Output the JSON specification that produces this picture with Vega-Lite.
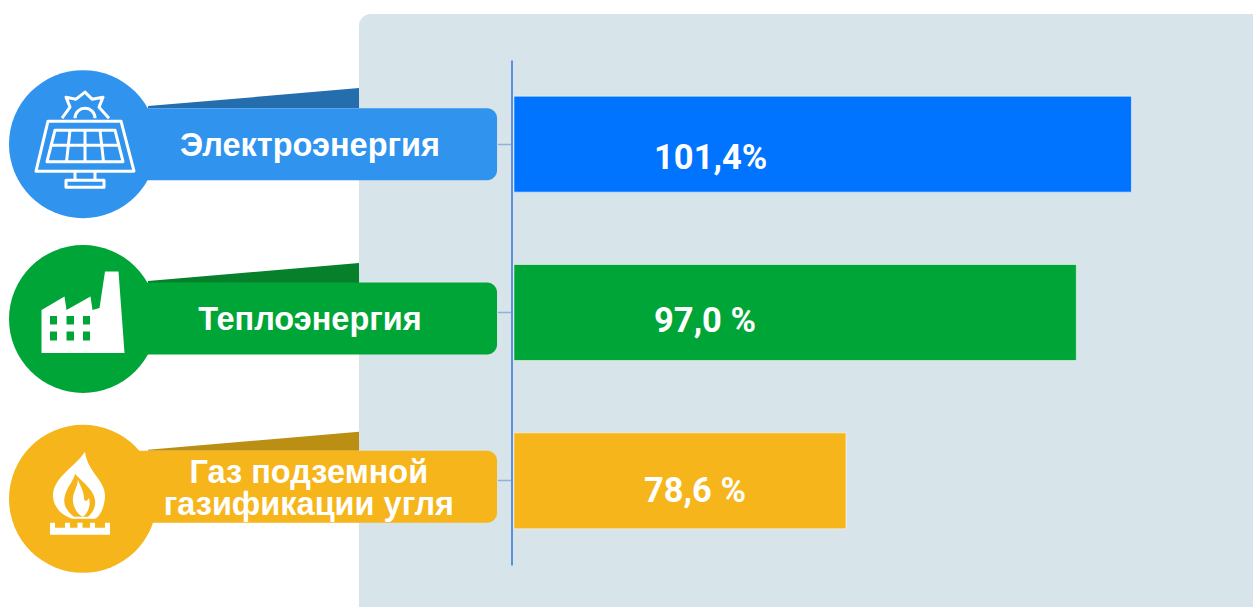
{"$schema":"https://vega.github.io/schema/vega-lite/v6.json","width":1253,"height":607,"padding":0,"autosize":{"type":"none"},"background":"#ffffff","config":{"view":{"stroke":null}},
"datasets":{"rows":[{"name":"Электроэнергия","value":101.4,"label":"101,4%","title":"Электроэнергия"},{"name":"Теплоэнергия","value":97.0,"label":"97,0 %","title":"Теплоэнергия"},{"name":"Газ подземной газификации угля","value":78.6,"label":"78,6 %","title":"Газ подземной\nгазификации угля"}]},
"data":{"name":"rows"},
"resolve":{"scale":{"y":"independent"}},
"layer":[
{"data":{"values":[{"panel":"background"}]},"mark":{"type":"rect","color":"#d7e4ea","cornerRadius":12},"encoding":{"x":{"datum":39.7,"type":"quantitative","scale":{"domain":[11.03,111.11],"nice":false,"zero":false},"axis":null},"x2":{"datum":114},"y":{"datum":14,"type":"quantitative","scale":{"domain":[607,0],"nice":false,"zero":false},"axis":null},"y2":{"datum":640}}},
{"encoding":{"y":{"field":"name","type":"nominal","sort":null,"title":null,"scale":{"type":"band","domain":["Электроэнергия","Теплоэнергия","Газ подземной газификации угля"],"range":[60,565],"paddingInner":0.43,"paddingOuter":0.215},"axis":{"orient":"left","offset":-511.5,"labels":false,"title":null,"zindex":1,"domainColor":"#5c8fdc","domainWidth":2,"tickColor":"#8fb0dc","tickSize":14,"tickWidth":1.5,"grid":false}}},
"layer":[
{"mark":{"type":"bar","stroke":"#ffffff","strokeOpacity":0.55,"strokeWidth":1},"encoding":{"x":{"field":"value","type":"quantitative","scale":{"domain":[11.03,111.11],"nice":false,"zero":false},"axis":null},"x2":{"datum":52.08},"color":{"field":"name","type":"nominal","legend":null,"scale":{"domain":["Электроэнергия","Теплоэнергия","Газ подземной газификации угля"],"range":["#0073ff","#00a537","#f5b51b"]}}}},

{"transform":[{"filter":"datum.value > 100"}],"layer":[
{"mark":{"type":"point","filled":true,"opacity":1,"size":44521,"color":"#246ead","yOffset":-36,"shape":"M-1 -0.02 L1 -0.19 L1 0 L-1 0Z"},"encoding":{"x":{"datum":31.28,"type":"quantitative"}}},
{"mark":{"type":"bar","height":72,"color":"#3093ee","cornerRadius":10},"encoding":{"x":{"datum":20.6,"type":"quantitative"},"x2":{"datum":50.73}}},
{"mark":{"type":"point","filled":true,"opacity":1,"size":21904,"color":"#3093ee","shape":"circle"},"encoding":{"x":{"datum":17.66,"type":"quantitative"}}},
{"mark":{"type":"point","filled":false,"opacity":1,"size":10000,"color":"#ffffff","strokeWidth":3,"yOffset":-4,"strokeJoin":"round","shape":"M-0.74 -0.38 L0.72 -0.38 L0.98 0.62 L-0.98 0.62Z M-0.6 -0.2 L0.6 -0.2 L0.76 0.43 L-0.76 0.43Z M-0.68 0.1 L0.68 0.1 M-0.3 -0.2 L-0.37 0.43 M0 -0.2 L0 0.43 M0.3 -0.2 L0.37 0.43 M-0.2 0.62 L-0.2 0.8 M0.2 0.62 L0.2 0.8 M-0.38 0.8 L0.38 0.8 L0.38 0.94 L-0.38 0.94Z M-0.2 -0.44 A0.2 0.2 0 0 1 0.2 -0.44 M-0.46 -0.44 L-0.3 -0.66 L-0.38 -0.86 L-0.18 -0.82 L0 -0.96 L0.14 -0.82 L0.36 -0.86 L0.28 -0.66 L0.48 -0.44"},"encoding":{"x":{"datum":17.82,"type":"quantitative"}}},
{"mark":{"type":"text","font":"Liberation Sans","fontWeight":"bold","fontSize":32.5,"color":"#ffffff","align":"center","baseline":"middle","yOffset":2},"encoding":{"x":{"datum":35.79,"type":"quantitative"},"text":{"field":"title"}}},
{"mark":{"type":"text","font":"Roboto","fontWeight":"bold","fontSize":34.5,"color":"#ffffff","align":"left","baseline":"middle","yOffset":15},"encoding":{"x":{"datum":63.27,"type":"quantitative"},"text":{"field":"label"}}}
]},

{"transform":[{"filter":"datum.value > 90 && datum.value < 100"}],"layer":[
{"mark":{"type":"point","filled":true,"opacity":1,"size":44521,"color":"#07802c","yOffset":-29.5,"shape":"M-1 -0.02 L1 -0.19 L1 0 L-1 0Z"},"encoding":{"x":{"datum":31.28,"type":"quantitative"}}},
{"mark":{"type":"bar","height":72,"color":"#00a537","cornerRadius":10,"yOffset":6},"encoding":{"x":{"datum":20.6,"type":"quantitative"},"x2":{"datum":50.73}}},
{"mark":{"type":"point","filled":true,"opacity":1,"size":21904,"color":"#00a537","shape":"circle","yOffset":6.5},"encoding":{"x":{"datum":17.66,"type":"quantitative"}}},
{"mark":{"type":"point","filled":true,"opacity":1,"size":10000,"color":"#ffffff","yOffset":-0.5,"shape":"M-0.83 0.82 L-0.83 -0.04 L-0.37 -0.31 L-0.33 -0.04 L0.15 -0.31 L0.19 -0.04 L0.33 -0.08 L0.44 -0.81 L0.71 -0.81 L0.83 0.82Z M-0.66 0.08 L-0.66 0.25 L-0.52 0.25 L-0.52 0.08Z M-0.33 0.08 L-0.33 0.25 L-0.18 0.25 L-0.18 0.08Z M0 0.08 L0 0.25 L0.14 0.25 L0.14 0.08Z M-0.66 0.39 L-0.66 0.57 L-0.52 0.57 L-0.52 0.39Z M-0.33 0.39 L-0.33 0.57 L-0.18 0.57 L-0.18 0.39Z M0 0.39 L0 0.57 L0.14 0.57 L0.14 0.39Z"},"encoding":{"x":{"datum":17.66,"type":"quantitative"}}},
{"mark":{"type":"text","font":"Liberation Sans","fontWeight":"bold","fontSize":32.5,"color":"#ffffff","align":"center","baseline":"middle","yOffset":7.5},"encoding":{"x":{"datum":35.79,"type":"quantitative"},"text":{"field":"title"}}},
{"mark":{"type":"text","font":"Roboto","fontWeight":"bold","fontSize":34.5,"color":"#ffffff","align":"left","baseline":"middle","yOffset":9.5},"encoding":{"x":{"datum":63.27,"type":"quantitative"},"text":{"field":"label"}}}
]},

{"transform":[{"filter":"datum.value < 90"}],"layer":[
{"mark":{"type":"point","filled":true,"opacity":1,"size":44521,"color":"#bb8e14","yOffset":-30,"shape":"M-1 -0.01 L1 -0.18 L1 0 L-1 0Z"},"encoding":{"x":{"datum":31.28,"type":"quantitative"}}},
{"mark":{"type":"bar","height":72,"color":"#f5b51b","cornerRadius":10,"yOffset":6},"encoding":{"x":{"datum":20.6,"type":"quantitative"},"x2":{"datum":50.73}}},
{"mark":{"type":"point","filled":true,"opacity":1,"size":21904,"color":"#f5b51b","shape":"circle","yOffset":18},"encoding":{"x":{"datum":17.66,"type":"quantitative"}}},
{"mark":{"type":"point","filled":true,"opacity":1,"size":10000,"color":"#ffffff","yOffset":14,"shape":"M0.1 -0.86 C-0.1 -0.55 -0.54 -0.35 -0.54 0.02 C-0.54 0.25 -0.35 0.42 -0.15 0.48 L0.3 0.48 C0.42 0.42 0.5 0.2 0.5 0.02 C0.5 -0.3 0.15 -0.45 0.1 -0.86Z M-0.12 0.44 C-0.3 0.3 -0.36 0.15 -0.28 -0.05 C-0.22 -0.2 -0.12 -0.3 -0.1 -0.42 C0 -0.3 0.28 -0.1 0.3 0.1 C0.32 0.25 0.25 0.36 0.16 0.44Z M-0.04 -0.3 C-0.06 -0.12 -0.16 -0.02 -0.14 0.14 C-0.12 0.28 -0.04 0.4 0.06 0.44 C0.16 0.36 0.22 0.22 0.18 0.06 C0.14 0.14 0.1 0.14 0.08 0.08 C0.08 -0.08 0 -0.18 -0.04 -0.3Z M-0.6 0.56 L-0.6 0.8 L0.6 0.8 L0.6 0.56 L0.5 0.56 L0.5 0.66 L0.3 0.66 L0.3 0.56 L0.2 0.56 L0.2 0.66 L0.05 0.66 L0.05 0.56 L-0.05 0.56 L-0.05 0.66 L-0.2 0.66 L-0.2 0.56 L-0.3 0.56 L-0.3 0.66 L-0.5 0.66 L-0.5 0.56Z"},"encoding":{"x":{"datum":17.42,"type":"quantitative"}}},
{"mark":{"type":"text","font":"Liberation Sans","fontWeight":"bold","fontSize":32.5,"lineHeight":32,"lineBreak":"\n","color":"#ffffff","align":"center","baseline":"middle","yOffset":-8},"encoding":{"x":{"datum":35.7,"type":"quantitative"},"text":{"field":"title"}}},
{"mark":{"type":"text","font":"Roboto","fontWeight":"bold","fontSize":34.5,"color":"#ffffff","align":"left","baseline":"middle","yOffset":11},"encoding":{"x":{"datum":62.47,"type":"quantitative"},"text":{"field":"label"}}}
]}
]}
]}
